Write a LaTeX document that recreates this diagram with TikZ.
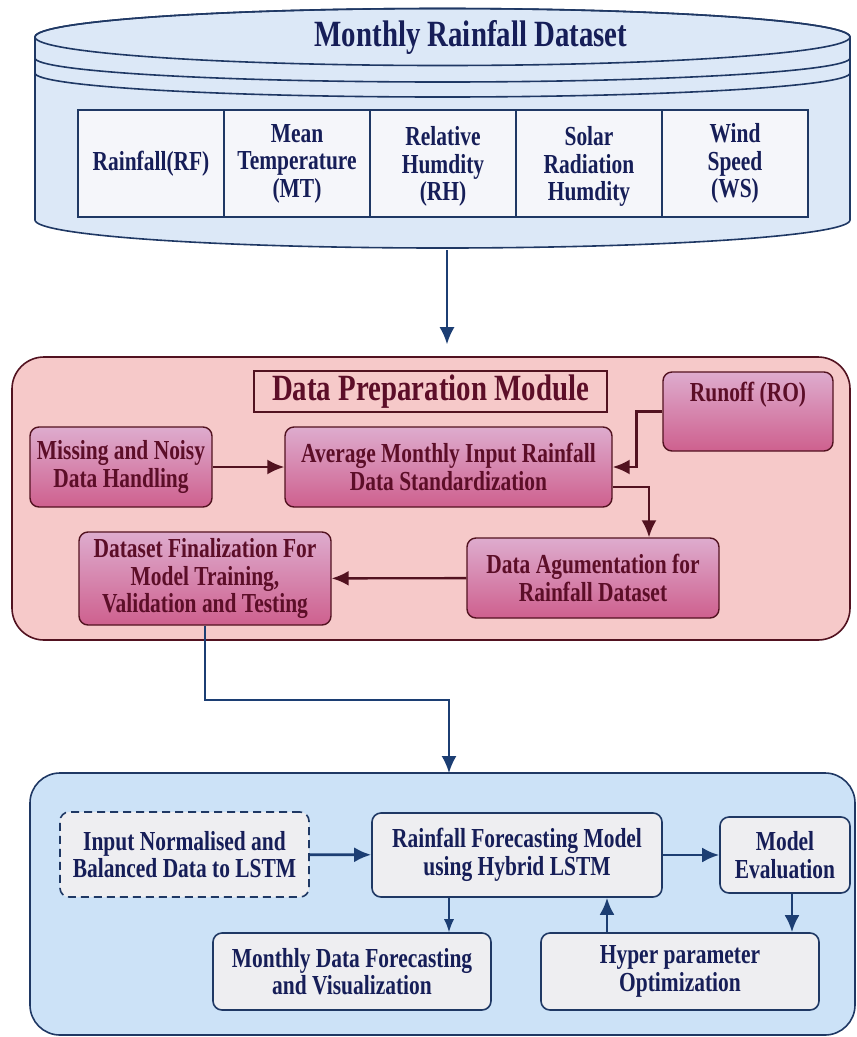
\documentclass[tikz,border=0pt]{standalone}
\usepackage{fontspec}
\setmainfont[FakeStretch=0.78]{Liberation Serif}
\usepackage{tikz}
\usetikzlibrary{arrows.meta}

\definecolor{navy}{RGB}{31,56,100}
\definecolor{navytext}{RGB}{22,30,88}
\definecolor{cylfill}{RGB}{220,232,247}
\definecolor{cellfill}{RGB}{245,246,250}
\definecolor{maroon}{RGB}{82,18,32}
\definecolor{maroontext}{RGB}{92,14,40}
\definecolor{modfill}{RGB}{246,201,201}
\definecolor{pinktop}{RGB}{222,172,206}
\definecolor{pinkbot}{RGB}{206,96,142}
\definecolor{lstmfill}{RGB}{204,226,247}
\definecolor{greyfill}{RGB}{238,238,241}
\definecolor{arrowblue}{RGB}{28,62,115}

\newcommand{\bodyfont}{\fontsize{27.5}{27.5}\selectfont\bfseries}
\newcommand{\headfont}{\fontsize{37}{38}\selectfont\bfseries}

\tikzset{
    cell/.style = {draw = navy, line width = 1.6pt, fill = cellfill, text = navytext, font = \bodyfont, align = center, minimum width = 146pt, minimum height = 107pt, inner sep = 0pt},
    pinkbox/.style = {draw = maroon, line width = 1.4pt, rounded corners = 9pt, top color = pinktop, bottom color = pinkbot, text = maroontext, font = \bodyfont, align = center, inner sep = 0pt},
    greybox/.style = {draw = navy, line width = 1.6pt, rounded corners = 9pt, fill = greyfill, text = navytext, font = \bodyfont, align = center, inner sep = 0pt},
    prepflow/.style = {draw = maroon, line width = 2.4pt, -{Latex[length = 17pt, width = 15pt]}},
    lstmflow/.style = {draw = arrowblue, line width = 2.8pt, -{Latex[length = 17pt, width = 15pt]}},
    thinflow/.style = {draw = arrowblue, line width = 1.3pt, -{Latex[length = 13pt, width = 10pt]}}
}

\begin{document}
\begin{tikzpicture}[x = 1pt, y = -1pt]
        \useasboundingbox (0, 0) rectangle (857, 1037);

        % dataset cylinder
        \filldraw[color = navy, fill = cylfill, line width = 1.6pt] (35, 37) -- (35, 220) arc[start angle = 180, end angle = 0, x radius = 407.5, y radius = 28] -- (850, 37) arc[start angle = 0, end angle = -180, x radius = 407.5, y radius = 28.5] -- cycle;
        \draw[color = navy, line width = 1.6pt] (442.5, 37) ellipse[x radius = 407.5, y radius = 28.5];
        \draw[color = navy, line width = 1.6pt] (35, 58) arc[start angle = 180, end angle = 0, x radius = 407.5, y radius = 24];
        \draw[color = navy, line width = 1.6pt] (35, 73) arc[start angle = 180, end angle = 0, x radius = 407.5, y radius = 24];
        \node[text = navytext, font = \headfont] (dstitle) at (471, 37) {Monthly Rainfall Dataset};
        \node[cell] (rf) at (151, 163.5) {Rainfall(RF)};
        \node[cell] (mt) at (297, 163.5) {Mean\\Temperature\\(MT)};
        \node[cell, text depth = 0pt] (rh) at (443, 163.5) {Relative\\Humdity\\(RH)};
        \node[cell, text depth = 0pt] (sr) at (589, 163.5) {Solar\\Radiation\\Humdity};
        \node[cell] (ws) at (735, 163.5) {Wind\\Speed\\(WS)};
        \coordinate (cylbase) at (447, 250);

        % data preparation module
        \node[draw = maroon, line width = 1.6pt, fill = modfill, rounded corners = 32pt, minimum width = 838pt, minimum height = 283pt] (prep) at (431, 498.5) {};
        \node[draw = maroon, line width = 1.6pt, fill = modfill, text = maroontext, font = \headfont, minimum width = 353pt, minimum height = 41pt, inner sep = 0pt] (preptitle) at (430.5, 391.5) {Data Preparation Module};
        \node[pinkbox, minimum width = 170pt, minimum height = 79pt, text depth = 39pt] (runoff) at (748, 411.5) {Runoff (RO)};
        \node[pinkbox, minimum width = 182pt, minimum height = 80pt] (missing) at (121, 467) {Missing and Noisy\\Data Handling};
        \node[pinkbox, minimum width = 327pt, minimum height = 80pt] (average) at (448.5, 467) {Average Monthly Input Rainfall\\Data Standardization};
        \node[pinkbox, minimum width = 252pt, minimum height = 80pt] (augment) at (593, 578) {Data Agumentation for\\Rainfall Dataset};
        \node[pinkbox, minimum width = 252pt, minimum height = 93pt] (final) at (205, 578.5) {Dataset Finalization For\\Model Training,\\Validation and Testing};

        \draw[lstmflow, line width = 2pt, shorten > = 12pt] (cylbase) -- ([xshift = 16pt]prep.north);
        \draw[prepflow] (missing) -- (average);
        \draw[prepflow] (runoff.west) -- ++(-26, 0) |- (average.east);
        \draw[prepflow] ([yshift = -20pt]average.east) -| ([xshift = 56pt]augment.north);
        \draw[prepflow] (augment) -- (final);

        % lstm module
        \node[draw = navy, line width = 1.6pt, fill = lstmfill, rounded corners = 30pt, minimum width = 825pt, minimum height = 262pt] (lstm) at (442.5, 904) {};
        \coordinate (lstmin) at (449, 773);
        \draw[lstmflow, line width = 2pt] (final.south) -- ++(0, 74) -| (lstmin);

        \node[greybox, dashed, dash pattern = on 8pt off 5pt, minimum width = 249pt, minimum height = 85pt] (input) at (184.5, 854.5) {Input Normalised and\\Balanced Data to LSTM};
        \node[greybox, minimum width = 290pt, minimum height = 84pt] (model) at (517, 855) {Rainfall Forecasting Model\\using Hybrid LSTM};
        \node[greybox, minimum width = 130pt, minimum height = 76pt] (evaluation) at (785, 855) {Model\\Evaluation};
        \node[greybox, minimum width = 278pt, minimum height = 77pt] (forecast) at (352, 971.5) {Monthly Data Forecasting\\and Visualization};
        \node[greybox, minimum width = 278pt, minimum height = 77pt] (hyper) at (680, 971.5) {Hyper parameter\\Optimization};

        \coordinate (fc) at ([xshift = -68pt]model.south);
        \coordinate (hp) at ([xshift = -73pt]hyper.north);
        \coordinate (ev) at ([xshift = 7pt]evaluation.south);
        \draw[lstmflow] (input) -- (model);
        \draw[lstmflow] (model) -- (evaluation);
        \draw[thinflow] (fc) -- (fc |- forecast.north);
        \draw[lstmflow] (hp) -- (hp |- model.south);
        \draw[lstmflow] (ev) -- (ev |- hyper.north);
    \end{tikzpicture}
\end{document}
